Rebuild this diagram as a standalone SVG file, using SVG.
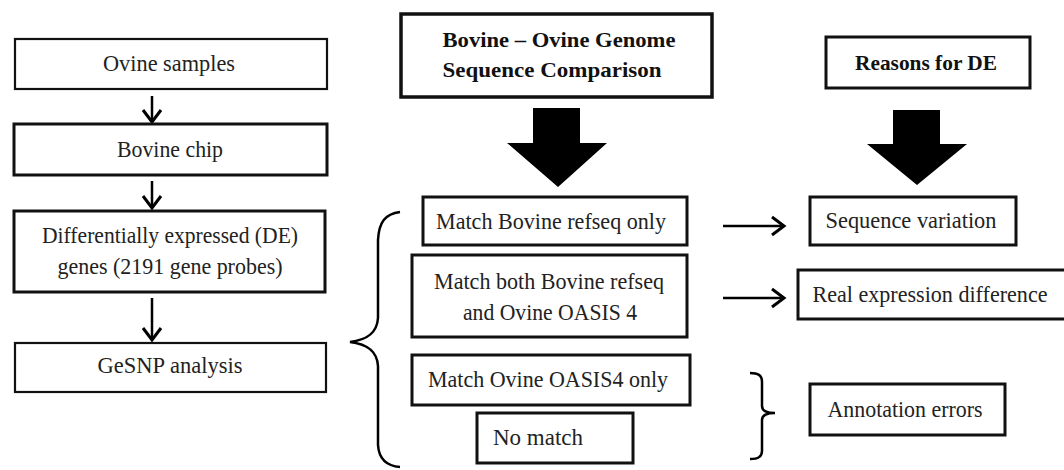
<svg xmlns="http://www.w3.org/2000/svg" width="1064" height="470" viewBox="0 0 1064 470">
<defs>
<style>
.box{fill:#fff;stroke:#111;stroke-width:3}
.thin{stroke-width:2.2}
.thick{stroke-width:3.5}
.t{font-family:'Liberation Serif','DejaVu Serif',serif;font-size:23px;fill:#222;text-anchor:middle}
.b{font-family:'Liberation Serif','DejaVu Serif',serif;font-size:21px;font-weight:bold;fill:#111;text-anchor:middle}
.ln{fill:none;stroke:#000;stroke-width:2.5}
.big{fill:#000}
</style>
<marker id="ah" markerUnits="userSpaceOnUse" markerWidth="20" markerHeight="24" viewBox="0 0 20 24" refX="16" refY="12" orient="auto">
<path d="M4,3 L16,12 L4,21" fill="none" stroke="#000" stroke-width="3"/>
</marker>
</defs>
<rect width="1064" height="470" fill="#fff"/>

<g id="connectors">
<line class="ln" x1="152" y1="96" x2="152" y2="122" marker-end="url(#ah)"/>
<line class="ln" x1="152" y1="181" x2="152" y2="208" marker-end="url(#ah)"/>
<line class="ln" x1="152" y1="298" x2="152" y2="340" marker-end="url(#ah)"/>
<line class="ln" x1="723" y1="226" x2="784" y2="226" marker-end="url(#ah)"/>
<line class="ln" x1="723" y1="298" x2="784" y2="298" marker-end="url(#ah)"/>
<polygon class="big" points="533,108 580,108 580,143 607,143 558,187 507,143 533,143"/>
<polygon class="big" points="893,110 940,110 940,144 967,144 917,185 867,144 893,144"/>
<path class="ln" d="M400,212 C385,214 379,222 378,240 L378,318 C377,334 366,340 350,342 C366,344 377,350 378,366 L378,445 C379,460 387,466 400,467"/>
<path class="ln" d="M750,373 C758,373 762,375 762,382 L762,406 C762,411 766,413 775,413 M775,413 C766,413 762,415 762,420 L762,451 C762,457 758,459 750,459"/>
</g>

<g id="ovine-samples">
<rect class="box thin" x="15" y="39" width="312" height="50"/>
<text class="t" x="169" y="71" textLength="132" lengthAdjust="spacingAndGlyphs">Ovine samples</text>
</g>
<g id="bovine-chip">
<rect class="box" x="14" y="124" width="313" height="51"/>
<text class="t" x="170" y="157" textLength="106" lengthAdjust="spacingAndGlyphs">Bovine chip</text>
</g>
<g id="de-genes">
<rect class="box" x="14" y="211" width="311" height="81"/>
<text class="t" x="170" y="243" textLength="256" lengthAdjust="spacingAndGlyphs">Differentially expressed (DE)</text>
<text class="t" x="170" y="274" textLength="225" lengthAdjust="spacingAndGlyphs">genes (2191 gene probes)</text>
</g>
<g id="gesnp">
<rect class="box thin" x="15" y="343" width="311" height="49"/>
<text class="t" x="170" y="373" textLength="145" lengthAdjust="spacingAndGlyphs">GeSNP analysis</text>
</g>

<g id="comparison-header">
<rect class="box thick" x="401" y="14" width="311" height="83"/>
<text class="b" x="559" y="47" textLength="233" lengthAdjust="spacingAndGlyphs">Bovine – Ovine Genome</text>
<text class="b" x="552" y="77" textLength="219" lengthAdjust="spacingAndGlyphs">Sequence Comparison</text>
</g>
<g id="match-bovine">
<rect class="box" x="423" y="197" width="264" height="48"/>
<text class="t" x="551" y="229" textLength="230" lengthAdjust="spacingAndGlyphs">Match Bovine refseq only</text>
</g>
<g id="match-both">
<rect class="box" x="412" y="255" width="275" height="82"/>
<text class="t" x="549" y="289" textLength="230" lengthAdjust="spacingAndGlyphs">Match both Bovine refseq</text>
<text class="t" x="550" y="320" textLength="174" lengthAdjust="spacingAndGlyphs">and Ovine OASIS 4</text>
</g>
<g id="match-ovine">
<rect class="box" x="412" y="355" width="278" height="50"/>
<text class="t" x="548" y="387" textLength="240" lengthAdjust="spacingAndGlyphs">Match Ovine OASIS4  only</text>
</g>
<g id="no-match">
<rect class="box" x="477" y="413" width="156" height="50"/>
<text class="t" x="538" y="445" textLength="90" lengthAdjust="spacingAndGlyphs">No match</text>
</g>

<g id="reasons-header">
<rect class="box" x="826" y="37" width="204" height="51"/>
<text class="b" x="926" y="70" textLength="142" lengthAdjust="spacingAndGlyphs">Reasons for DE</text>
</g>
<g id="sequence-variation">
<rect class="box" x="810" y="197" width="206" height="48"/>
<text class="t" x="911" y="228" textLength="171" lengthAdjust="spacingAndGlyphs">Sequence variation</text>
</g>
<g id="real-expression">
<rect class="box" x="798" y="270" width="272" height="49"/>
<text class="t" x="930" y="302" textLength="235" lengthAdjust="spacingAndGlyphs">Real expression difference</text>
</g>
<g id="annotation-errors">
<rect class="box" x="810" y="384" width="195" height="51"/>
<text class="t" x="905" y="417" textLength="155" lengthAdjust="spacingAndGlyphs">Annotation errors</text>
</g>
</svg>
